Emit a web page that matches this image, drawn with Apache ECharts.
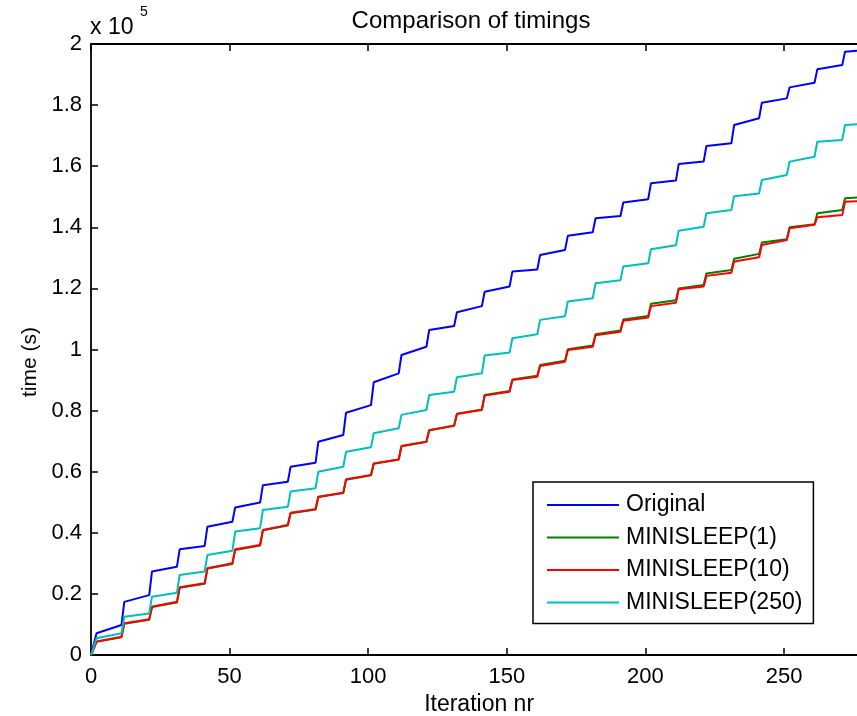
<!DOCTYPE html>
<html>
<head>
<meta charset="utf-8">
<script src="https://cdn.jsdelivr.net/npm/echarts@6/dist/echarts.min.js"></script>
<style>
html,body{margin:0;padding:0;background:#fff;}
#chart{width:857px;height:716px;}
</style>
</head>
<body>
<div id="chart"></div>
<script>
// Iteration numbers at which values were read (start / end of each plateau)
const iterations = [0,
  2, 11, 12, 21, 22, 31, 32, 41, 42, 51, 52, 61, 62, 71, 72, 81, 82, 91, 92, 101,
  102, 111, 112, 121, 122, 131, 132, 141, 142, 151, 152, 161, 162, 171, 172, 181, 182, 191, 192, 201,
  202, 211, 212, 221, 222, 231, 232, 241, 242, 251, 252, 261, 262, 271, 272, 280];

// time values in units of 1e5 s
const original = [0,
  0.071, 0.098, 0.174, 0.196, 0.273, 0.289, 0.346, 0.357, 0.420, 0.436,
  0.483, 0.499, 0.556, 0.567, 0.616, 0.629, 0.698, 0.720, 0.793, 0.818,
  0.893, 0.922, 0.982, 1.009, 1.064, 1.077, 1.122, 1.142, 1.189, 1.206,
  1.255, 1.262, 1.309, 1.326, 1.372, 1.384, 1.430, 1.437, 1.481, 1.492,
  1.544, 1.553, 1.607, 1.615, 1.666, 1.675, 1.735, 1.757, 1.808, 1.822,
  1.858, 1.873, 1.917, 1.931, 1.975, 1.980];

const minisleep1 = [0,
  0.043, 0.058, 0.102, 0.115, 0.157, 0.172, 0.220, 0.233, 0.283, 0.298,
  0.344, 0.358, 0.408, 0.424, 0.464, 0.476, 0.517, 0.530, 0.574, 0.588,
  0.626, 0.640, 0.683, 0.698, 0.736, 0.751, 0.790, 0.804, 0.851, 0.864,
  0.902, 0.914, 0.949, 0.963, 1.001, 1.013, 1.050, 1.062, 1.098, 1.110,
  1.150, 1.161, 1.200, 1.211, 1.249, 1.260, 1.297, 1.313, 1.350, 1.361,
  1.400, 1.410, 1.446, 1.457, 1.495, 1.500];

const minisleep10 = [0,
  0.044, 0.060, 0.104, 0.117, 0.158, 0.174, 0.222, 0.235, 0.284, 0.300,
  0.346, 0.360, 0.409, 0.426, 0.466, 0.477, 0.518, 0.531, 0.575, 0.589,
  0.627, 0.640, 0.684, 0.698, 0.736, 0.750, 0.789, 0.802, 0.849, 0.862,
  0.900, 0.911, 0.946, 0.960, 0.998, 1.009, 1.047, 1.058, 1.094, 1.105,
  1.142, 1.153, 1.197, 1.206, 1.241, 1.251, 1.288, 1.302, 1.342, 1.358,
  1.397, 1.408, 1.433, 1.440, 1.484, 1.487];

const minisleep250 = [0,
  0.055, 0.071, 0.125, 0.136, 0.191, 0.204, 0.262, 0.273, 0.327, 0.341,
  0.404, 0.415, 0.475, 0.485, 0.535, 0.546, 0.600, 0.616, 0.665, 0.680,
  0.726, 0.742, 0.786, 0.802, 0.851, 0.862, 0.909, 0.922, 0.980, 0.990,
  1.037, 1.050, 1.097, 1.109, 1.157, 1.168, 1.217, 1.227, 1.272, 1.282,
  1.328, 1.341, 1.389, 1.402, 1.446, 1.457, 1.502, 1.511, 1.555, 1.571,
  1.615, 1.631, 1.680, 1.686, 1.735, 1.740];

const seriesNames = ['Original', 'MINISLEEP(1)', 'MINISLEEP(10)', 'MINISLEEP(250)'];
const seriesValues = [original, minisleep1, minisleep10, minisleep250];
const seriesColors = ['#0000FF', '#008000', '#FF0000', '#00BFBF'];

const FONT = '"Liberation Sans", Arial, Helvetica, sans-serif';
const chart = echarts.init(document.getElementById('chart'), null, {renderer: 'canvas'});

const axisLineStyle = {color: '#000', width: 1.8};
const tickStyle = {color: '#000', width: 1.5};
const option = {
  animation: false,
  backgroundColor: '#fff',
  graphic: [
    {type: 'text', x: 471, y: 21,
      style: {text: 'Comparison of timings', font: '24px ' + FONT, fill: '#000', align: 'center', verticalAlign: 'middle'}},
    {type: 'text', left: 90, top: 16, style: {text: 'x 10', font: '23px ' + FONT, fill: '#000'}},
    {type: 'text', left: 140, top: 5, style: {text: '5', font: '14px ' + FONT, fill: '#000'}},
    {type: 'text', x: 30, y: 362, rotation: Math.PI / 2,
      style: {text: 'time (s)', font: '21px ' + FONT, fill: '#000', align: 'center', verticalAlign: 'middle'}}
  ],
  grid: {left: 91, top: 44, width: 776.2, height: 611, outerBoundsMode: 'none', containLabel: false},
  legend: {
    orient: 'vertical',
    left: 533, top: 482,
    padding: [11, 11, 9, 14],
    itemGap: 8.5,
    icon: 'rect',
    itemWidth: 72, itemHeight: 2,
    borderColor: '#000', borderWidth: 1.5,
    backgroundColor: '#fff',
    textStyle: {fontFamily: FONT, fontSize: 23, color: '#000', lineHeight: 24, padding: [0, 0, 0, 2]},
    data: seriesNames
  },
  xAxis: [
    {
      type: 'value', min: 0, max: 280, interval: 50, position: 'bottom',
      axisLine: {show: true, onZero: false, lineStyle: axisLineStyle},
      axisTick: {show: true, inside: true, length: 7, lineStyle: tickStyle},
      axisLabel: {fontFamily: FONT, fontSize: 22, color: '#000', margin: 11, showMaxLabel: false},
      splitLine: {show: false},
      name: 'Iteration nr', nameLocation: 'middle', nameGap: 37,
      nameTextStyle: {fontFamily: FONT, fontSize: 23, color: '#000'}
    },
    {
      type: 'value', min: 0, max: 280, interval: 50, position: 'top',
      axisLine: {show: true, onZero: false, lineStyle: axisLineStyle},
      axisTick: {show: true, inside: true, length: 7, lineStyle: tickStyle},
      axisLabel: {show: false},
      splitLine: {show: false}
    }
  ],
  yAxis: [
    {
      type: 'value', min: 0, max: 2, interval: 0.2,
      axisLine: {show: true, onZero: false, lineStyle: axisLineStyle},
      axisTick: {show: true, inside: true, length: 7, lineStyle: tickStyle},
      axisLabel: {fontFamily: FONT, fontSize: 22, color: '#000', margin: 9,
        formatter: v => String(+Number(v).toFixed(1))},
      splitLine: {show: false}
    }
  ],
  series: seriesNames.map((name, si) => ({
    name: name,
    type: 'line',
    xAxisIndex: 0, yAxisIndex: 0,
    symbol: 'none', showSymbol: false,
    smooth: false,
    color: seriesColors[si],
    lineStyle: {color: seriesColors[si], width: 2},
    data: iterations.map((x, i) => [x, seriesValues[si][i]])
  }))
};
chart.setOption(option);
</script>
</body>
</html>
